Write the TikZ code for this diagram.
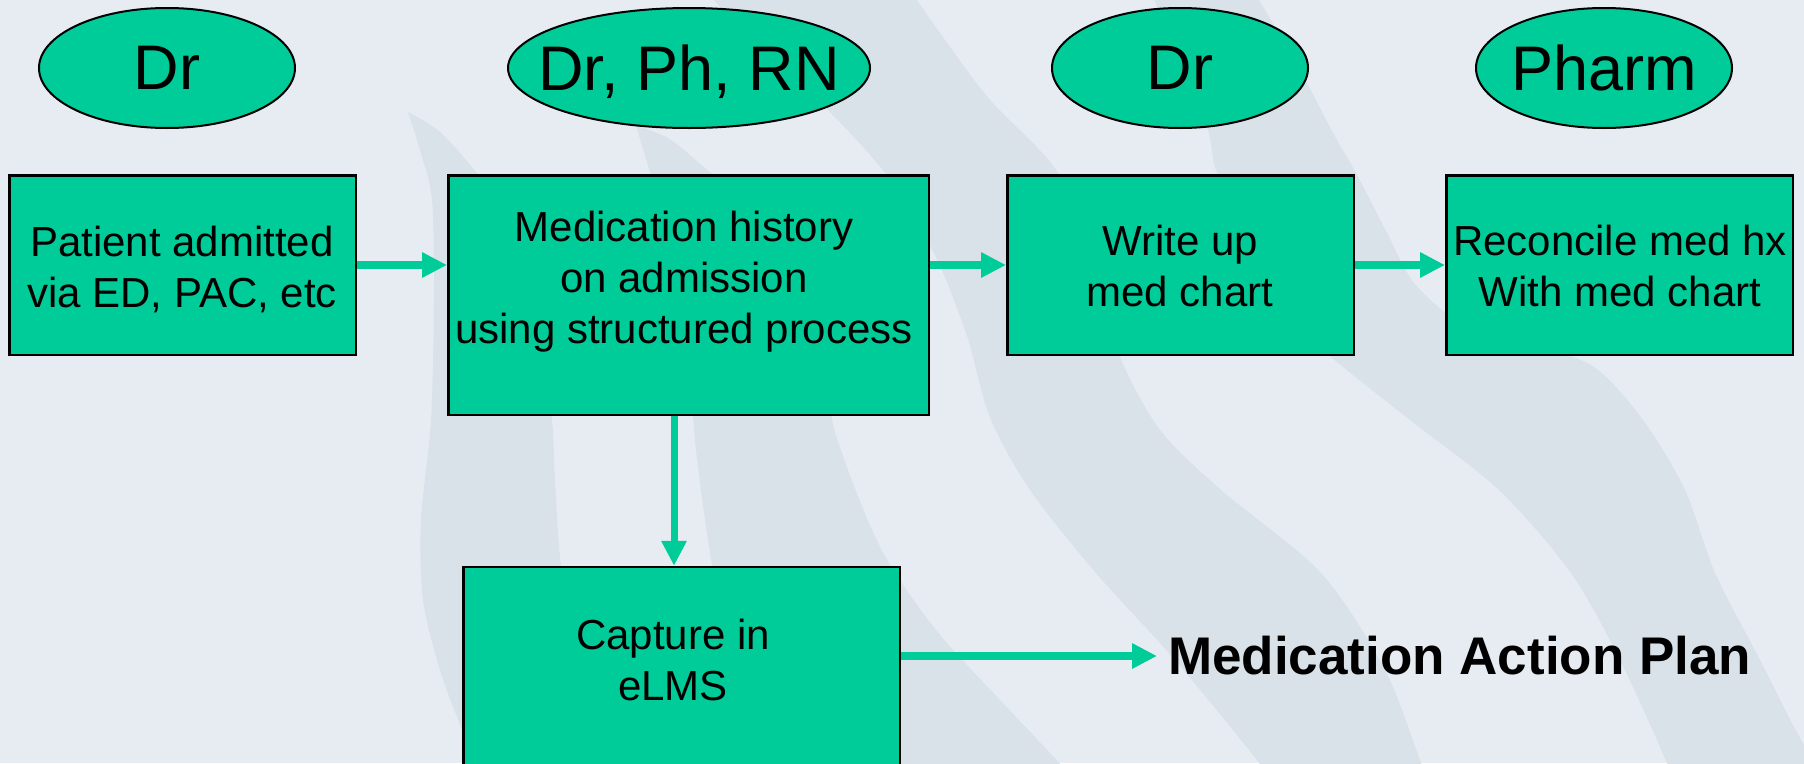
\documentclass[tikz,border=0pt]{standalone}
\usepackage{fontspec}
\setmainfont{Liberation Sans}
\usetikzlibrary{arrows.meta,shapes.geometric}
\definecolor{bgc}{RGB}{231,236,243}
\definecolor{bandc}{RGB}{217,225,233}
\definecolor{grn}{RGB}{0,204,153}
\tikzset{
  role/.style={ellipse, draw=black, line width=2pt, fill=grn, inner sep=0pt,
    text depth=0pt, font=\fontsize{63}{70}\selectfont},
  stepbox/.style={rectangle, draw=black, line width=2.5pt, fill=grn, inner sep=0pt},
  lbl/.style={align=center, inner sep=0pt, font=\fontsize{42}{51}\selectfont},
  flow/.style={draw=grn, line width=8pt, -{Triangle[length=25pt,width=24pt]}},
  band/.style={fill=bandc}
}
\begin{document}
\begin{tikzpicture}[x=1pt,y=-1pt]
\useasboundingbox (0,0) rectangle (1804,763);
\begin{scope}
\clip (0,0) rectangle (1804,763);
\fill[bgc] (0,0) rectangle (1804,763);
% band A
\fill[band] plot[smooth] coordinates {(408,112) (420,150) (432,200) (434,300) (431,420) (421,520) (423,600) (440,670) (462,730) (485,790)}
  -- plot[smooth] coordinates {(630,790) (585,660) (562,573) (555,480) (552,420) (540,300) (510,215) (477,173) (440,132) (408,112)} -- cycle;
% band B
\fill[band] plot[smooth] coordinates {(636,126) (650,173) (672,260) (688,357) (696,450) (708,540) (722,620) (745,700) (770,790)}
  -- plot[smooth] coordinates {(1085,790) (1000,700) (940,635) (895,573) (872,530) (848,470) (832,420) (828,370) (805,290) (760,215) (705,168) (668,138) (636,126)} -- cycle;
% band C
\fill[band] plot[smooth] coordinates {(705,-10) (760,50) (818,100) (885,173) (935,255) (965,330) (973,357) (991,420) (1030,490) (1096,573) (1175,660) (1259,763) (1272,790)}
  -- plot[smooth] coordinates {(1432,790) (1421,763) (1385,670) (1321,573) (1221,490) (1160,430) (1120,357) (1095,270) (1058,173) (990,100) (945,40) (910,-10)} -- cycle;
% band D
\fill[band] plot[smooth] coordinates {(1150,-10) (1180,60) (1208,130) (1217,173) (1255,255) (1300,325) (1331,357) (1410,420) (1499,490) (1571,573) (1620,660) (1667,763) (1675,790)}
  -- plot[smooth] coordinates {(1840,790) (1804,745) (1760,660) (1715,573) (1685,490) (1643,420) (1594,367) (1530,343) (1460,322) (1414,283) (1387,233) (1356,173) (1333,133) (1300,70) (1253,-10)} -- cycle;

% role ellipses
\node[role, minimum width=256pt, minimum height=120pt] (r1) at (167,68) {\makebox[0pt]{Dr}};
\node[role, minimum width=362pt, minimum height=120pt] (r2) at (689,68) {\makebox[0pt]{Dr, Ph, RN}};
\node[role, minimum width=256pt, minimum height=120pt] (r3) at (1180,68) {\makebox[0pt]{Dr}};
\node[role, minimum width=256pt, minimum height=120pt] (r4) at (1604,68) {\makebox[0pt]{Pharm}};

% process boxes
\node[stepbox, minimum width=346.5pt, minimum height=179.5pt] (b1) at (182.5,265) {};
\node[stepbox, minimum width=480.5pt, minimum height=239.5pt] (b2) at (688.5,295) {};
\node[stepbox, minimum width=346.5pt, minimum height=179.5pt] (b3) at (1180.5,265) {};
\node[stepbox, minimum width=346.5pt, minimum height=179.5pt] (b4) at (1619.5,265) {};
\node[stepbox, minimum width=436.5pt, minimum height=260pt] (b5) at (681.5,697) {};

% box texts
\node[lbl] (t1) at (182,269) {Patient admitted\\via ED, PAC, etc};
\node[lbl] (t2) at (684,281.5) {Medication history\\on admission\\using structured process};
\node[lbl] (t3) at (1180,265.5) {Write up\\med chart};
\node[lbl] (t4) at (1620,266) {Reconcile med hx\\With med chart};
\node[lbl] (t5) at (673,660) {Capture in\\eLMS};

% outcome
\node[anchor=west, inner sep=0pt, font=\fontsize{53}{60}\selectfont\bfseries] (map) at (1168,656) {Medication Action Plan};

% connectors
\draw[flow] (b1.east) -- (b1.east -| b2.west);
\draw[flow] (b3.west -| b2.east) -- (b3.west);
\draw[flow] (b3.east) -- (b4.west);
\coordinate (va) at (674,0);
\draw[flow, line width=7pt] (va |- b2.south) -- (va |- b5.north);
\draw[flow] (map.west -| b5.east) -- ([xshift=-11pt]map.west);
\end{scope}
\end{tikzpicture}
\end{document}
